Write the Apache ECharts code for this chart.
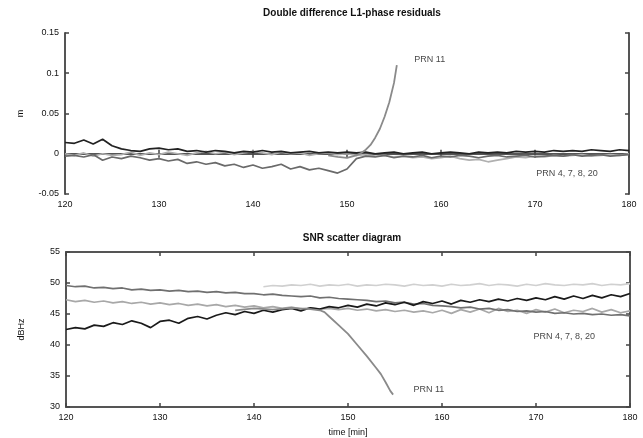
<!DOCTYPE html>
<html><head><meta charset="utf-8">
<script src="https://cdn.jsdelivr.net/npm/echarts@6/dist/echarts.min.js"></script>
<style>html,body{margin:0;padding:0;background:#fff}#c{width:643px;height:438px}</style>
</head><body><div id="c"></div>
<script>
// ---- data ----
const times = [120,121,122,123,124,125,126,127,128,129,130,131,132,133,134,135,136,137,138,139,140,141,142,143,144,145,146,147,148,149,150,151,152,153,154,155,156,157,158,159,160,161,162,163,164,165,166,167,168,169,170,171,172,173,174,175,176,177,178,179,180];
const xTicks = [120,130,140,150,160,170,180];
const yTicksTop = [-0.05,0,0.05,0.1,0.15];
const yTicksBottom = [30,35,40,45,50,55];

// Double difference residuals (m)
const resDark = [0.014,0.013,0.017,0.012,0.018,0.010,0.006,0.004,0.003,0.006,
 0.007,0.005,0.006,0.003,0.004,0.002,0.004,0.003,0.001,0.003,
 0.002,0.004,0.002,0.003,0.001,0.002,0.003,0.001,0.002,0.001,
 0.002,0.001,0.002,0.000,0.001,0.002,0.000,0.001,0.002,0.000,
 0.001,0.002,0.001,0.000,0.002,0.001,0.002,0.001,0.003,0.002,
 0.003,0.002,0.004,0.003,0.004,0.003,0.005,0.004,0.003,0.005,0.004];
const resMid = [-0.003,-0.002,-0.004,-0.001,-0.008,-0.004,-0.006,-0.003,-0.005,-0.008,
 -0.006,-0.009,-0.007,-0.012,-0.010,-0.013,-0.011,-0.015,-0.013,-0.017,
 -0.014,-0.018,-0.016,-0.013,-0.019,-0.016,-0.020,-0.018,-0.021,-0.024,
 -0.019,-0.006,-0.003,-0.004,-0.002,-0.005,-0.003,-0.004,-0.002,-0.005,
 -0.003,-0.004,-0.002,-0.003,-0.005,-0.003,-0.002,-0.004,-0.003,-0.002,
 -0.004,-0.003,-0.002,-0.003,-0.001,-0.003,-0.002,-0.001,-0.003,-0.002,-0.001];
const resLight = [0.000,-0.002,0.001,-0.003,0.000,-0.002,-0.001,0.002,-0.002,0.001,
 -0.001,0.002,0.000,-0.002,0.001,0.003,0.000,0.002,-0.001,0.001,
 0.003,0.001,-0.001,0.002,0.000,0.001,-0.002,0.000,0.001,-0.001,
 0.000,-0.002,-0.001,-0.003,-0.002,-0.004,-0.003,-0.005,-0.004,-0.006,
 -0.005,-0.003,-0.006,-0.008,-0.007,-0.010,-0.008,-0.006,-0.004,-0.005,
 -0.003,-0.004,-0.002,-0.003,-0.002,-0.001,-0.003,-0.002,-0.001,-0.002,0.000];
const prn11ResT = [148,149,150,151,151.5,152,152.5,153,153.5,154,154.5,155,155.3];
const prn11ResV = [-0.002,-0.004,-0.005,-0.002,0.001,0.005,0.011,0.020,0.031,0.046,0.064,0.088,0.110];

// SNR (dBHz)
const snrBlack = [42.5,42.8,42.6,43.2,43.0,43.6,43.3,43.9,43.5,42.8,
 43.8,44.0,43.5,44.3,44.6,44.2,44.8,45.2,44.9,45.4,
 45.1,45.6,45.3,45.7,45.9,45.5,46.0,45.8,46.2,46.0,
 46.4,46.1,46.6,46.3,46.8,46.5,46.9,46.4,47.0,46.7,
 47.1,46.6,47.2,46.9,47.3,47.0,47.4,47.1,47.5,47.2,
 47.6,47.3,47.8,47.4,47.9,47.5,48.0,47.6,48.1,47.8,48.3];
const snrGrey = [49.6,49.4,49.5,49.2,49.3,49.1,49.2,48.9,49.0,48.8,
 48.9,48.7,48.8,48.6,48.7,48.5,48.6,48.4,48.5,48.3,
 48.3,48.1,48.2,48.0,47.9,47.8,47.9,47.6,47.7,47.5,
 47.4,47.3,47.2,47.0,47.1,46.8,46.9,46.6,46.7,46.4,
 46.3,46.2,46.0,46.1,45.8,45.9,45.6,45.7,45.4,45.5,
 45.3,45.4,45.1,45.2,45.0,45.1,44.9,45.0,44.8,44.9,44.7];
const snrLight = [47.3,47.0,47.2,46.9,47.1,46.8,47.0,46.7,46.9,46.6,
 46.8,46.5,46.7,46.4,46.6,46.3,46.5,46.2,46.4,46.1,
 46.3,46.0,46.2,45.9,46.1,45.8,46.0,45.8,45.9,45.7,
 45.9,45.6,45.8,45.5,45.7,45.4,45.6,45.3,45.5,45.2,
 45.6,45.1,45.7,45.3,45.8,45.2,45.9,45.4,45.6,45.1,
 45.7,45.3,45.8,45.2,45.6,45.4,45.9,45.3,45.7,45.2,45.5];
const snrPaleT = [141,142,143,144,145,146,147,148,149,150,151,152,153,154,155,156,157,158,159,160,161,162,163,164,165,166,167,168,169,170,171,172,173,174,175,176,177,178,179,180];
const snrPale = [49.4,49.6,49.5,49.7,49.6,49.8,49.5,49.7,49.6,49.8,
 49.5,49.7,49.6,49.8,49.7,49.5,49.8,49.6,49.7,49.5,
 49.8,49.6,49.7,49.9,49.6,49.8,49.7,49.5,49.8,49.6,
 49.9,49.7,49.6,49.8,49.7,49.9,49.6,49.8,49.7,49.9];
const prn11SnrT = [138,140,142,144,146,147,147.5,148,149,150,151,152,153,153.5,154,154.5,154.8];
const prn11SnrV = [45.6,45.9,45.7,46.0,45.8,45.6,45.3,44.6,43.2,41.8,40.0,38.2,36.3,35.3,34.0,32.6,32.0];

// annotations: [text, time, value]
const annTop = [['PRN 11',158.8,0.117],['PRN 4, 7, 8, 20',173.4,-0.025]];
const annBottom = [['PRN 11',158.6,32.9],['PRN 4, 7, 8, 20',173.0,41.3]];

// ---- build ----
const pair = (t, v) => t.map((x, i) => [x, v[i]]);
const FONT = 'Liberation Sans';
const txt = {fontFamily: FONT, fontSize: 9, color: '#111'};

function xAx(gi, pos, showLabel, name) {
  return {
    type: 'value', gridIndex: gi, position: pos,
    min: xTicks[0], max: xTicks[xTicks.length-1], interval: 10,
    axisLine: {lineStyle: {color: '#555', width: 2}},
    axisTick: {show: true, inside: true, length: 4, lineStyle: {color: '#444', width: 1.5}},
    axisLabel: Object.assign({show: showLabel, margin: 6}, txt),
    splitLine: {show: false},
    name: name || '', nameLocation: 'middle', nameGap: 21,
    nameTextStyle: txt
  };
}
function yAx(gi, pos, ticks, showLabel, name) {
  return {
    type: 'value', gridIndex: gi, position: pos,
    min: ticks[0], max: ticks[ticks.length-1], interval: ticks[1]-ticks[0],
    axisLine: {lineStyle: {color: '#555', width: 2}},
    axisTick: {show: true, inside: true, length: 4, lineStyle: {color: '#444', width: 1.5}},
    axisLabel: Object.assign({show: showLabel, margin: 6}, txt),
    splitLine: {show: false},
    name: name || '', nameLocation: 'middle', nameRotate: 90, nameGap: 40,
    nameTextStyle: txt
  };
}
function line(xi, yi, data, color, w) {
  return {type: 'line', xAxisIndex: xi, yAxisIndex: yi, data: data, showSymbol: false,
    symbol: 'none', lineStyle: {color: color, width: w || 1.7}, animation: false, z: 2};
}
function ann(xi, yi, list) {
  return {type: 'scatter', xAxisIndex: xi, yAxisIndex: yi, symbolSize: 1,
    itemStyle: {color: 'rgba(0,0,0,0)'}, animation: false, silent: true,
    data: list.map(a => ({name: a[0], value: [a[1], a[2]]})),
    label: Object.assign({show: true, position: 'inside', formatter: p => p.name}, txt)};
}

const option = {
  backgroundColor: '#fff',
  animation: false,
  title: [
    {text: 'Double difference L1-phase residuals', left: 347, top: 3, textAlign: 'center',
     textStyle: {fontFamily: FONT, fontSize: 10, fontWeight: 'bold', color: '#111'}},
    {text: 'SNR scatter diagram', left: 347, top: 228, textAlign: 'center',
     textStyle: {fontFamily: FONT, fontSize: 10, fontWeight: 'bold', color: '#111'}}
  ],
  grid: [
    {left: 65, top: 33, width: 564, height: 161},
    {left: 66, top: 252, width: 564, height: 157}
  ],
  xAxis: [
    xAx(0, 'bottom', true), xAx(0, 'top', false),
    xAx(1, 'bottom', true, 'time [min]'), xAx(1, 'top', false)
  ],
  yAxis: [
    yAx(0, 'left', yTicksTop, true, 'm'), yAx(0, 'right', yTicksTop, false),
    yAx(1, 'left', yTicksBottom, true, 'dBHz'), yAx(1, 'right', yTicksBottom, false)
  ],
  series: [
    line(0, 0, pair(times, resLight), '#b0b0b0'),
    line(0, 0, pair(times, resMid), '#6a6a6a'),
    line(0, 0, pair(times, resDark), '#222'),
    line(0, 0, pair(prn11ResT, prn11ResV), '#8a8a8a', 1.8),
    ann(0, 0, annTop),
    line(2, 2, pair(snrPaleT, snrPale), '#d0d0d0'),
    line(2, 2, pair(times, snrLight), '#a8a8a8'),
    line(2, 2, pair(times, snrGrey), '#707070'),
    line(2, 2, pair(times, snrBlack), '#1a1a1a'),
    line(2, 2, pair(prn11SnrT, prn11SnrV), '#8a8a8a', 1.8),
    ann(2, 2, annBottom)
  ]
};
const chart = echarts.init(document.getElementById('c'), null, {renderer: 'canvas'});
chart.setOption(option);
</script></body></html>
